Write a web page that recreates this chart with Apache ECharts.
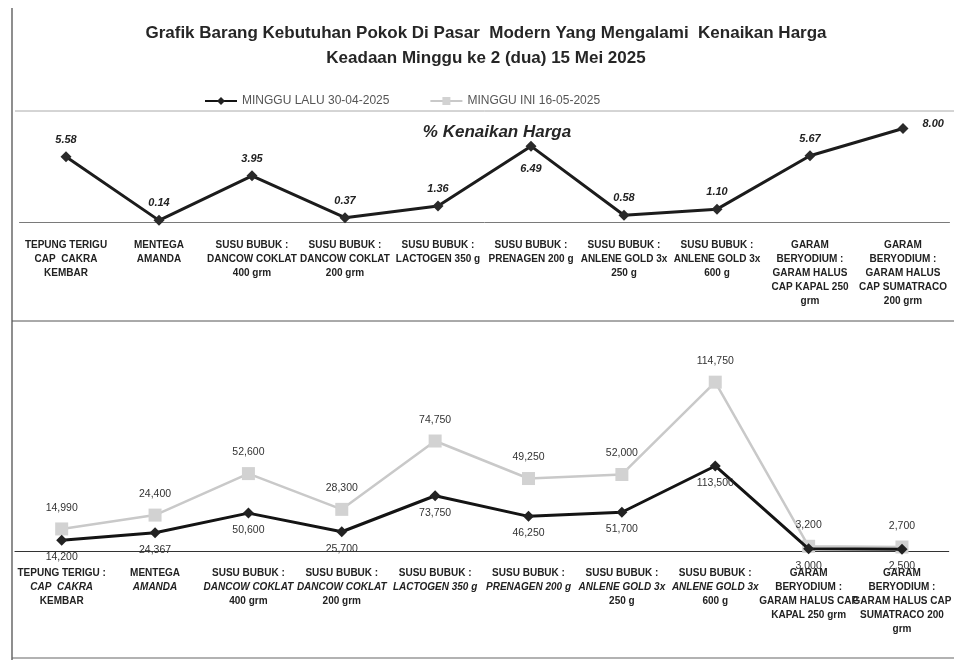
<!DOCTYPE html>
<html>
<head>
<meta charset="utf-8">
<script src="https://cdn.jsdelivr.net/npm/echarts@6/dist/echarts.min.js"></script>
<style>html,body{margin:0;padding:0;background:#fff;}#c{width:954px;height:662px;}</style>
</head>
<body>
<div id="c"></div>
<script>
// ---- data ----
const titleLines = ['Grafik Barang Kebutuhan Pokok Di Pasar  Modern Yang Mengalami  Kenaikan Harga', 'Keadaan Minggu ke 2 (dua) 15 Mei 2025'];
const subTitle = '% Kenaikan Harga';
const seriesNames = ['MINGGU LALU 30-04-2025', 'MINGGU INI 16-05-2025'];
const topCategories = [
  'TEPUNG TERIGU\nCAP  CAKRA\nKEMBAR',
  'MENTEGA\nAMANDA',
  'SUSU BUBUK :\nDANCOW COKLAT\n400 grm',
  'SUSU BUBUK :\nDANCOW COKLAT\n200 grm',
  'SUSU BUBUK :\nLACTOGEN 350 g',
  'SUSU BUBUK :\nPRENAGEN 200 g',
  'SUSU BUBUK :\nANLENE GOLD 3x\n250 g',
  'SUSU BUBUK :\nANLENE GOLD 3x\n600 g',
  'GARAM\nBERYODIUM :\nGARAM HALUS\nCAP KAPAL 250\ngrm',
  'GARAM\nBERYODIUM :\nGARAM HALUS\nCAP SUMATRACO\n200 grm'
];
const bottomCategories = [
  'TEPUNG TERIGU :\nCAP  CAKRA\nKEMBAR',
  'MENTEGA\nAMANDA',
  'SUSU BUBUK :\nDANCOW COKLAT\n400 grm',
  'SUSU BUBUK :\nDANCOW COKLAT\n200 grm',
  'SUSU BUBUK :\nLACTOGEN 350 g',
  'SUSU BUBUK :\nPRENAGEN 200 g',
  'SUSU BUBUK :\nANLENE GOLD 3x\n250 g',
  'SUSU BUBUK :\nANLENE GOLD 3x\n600 g',
  'GARAM\nBERYODIUM :\nGARAM HALUS CAP\nKAPAL 250 grm',
  'GARAM\nBERYODIUM :\nGARAM HALUS CAP\nSUMATRACO 200\ngrm'
];
const pctIncrease = [5.58, 0.14, 3.95, 0.37, 1.36, 6.49, 0.58, 1.10, 5.67, 8.00];
const priceLastWeek = [14200, 24367, 50600, 25700, 73750, 46250, 51700, 113500, 3000, 2500];
const priceThisWeek = [14990, 24400, 52600, 28300, 74750, 49250, 52000, 114750, 3200, 2700];

// ---- chart ----
const chart = echarts.init(document.getElementById('c'), null, {renderer: 'canvas'});
const FONT = "'Liberation Sans', Arial, sans-serif";
const fmtNum = v => Number(v).toLocaleString('en-US');

function labelFormatter(italicSecond) {
  return function (val, idx) {
    const lines = val.split('\n');
    return lines.map((l, i) => (italicSecond && i === 1 && idx < 8) ? '{i|' + l + '}' : '{b|' + l + '}').join('\n');
  };
}
const richLab = {
  b: {fontFamily: FONT, fontWeight: 'bold', fontSize: 10, lineHeight: 14, color: '#222'},
  i: {fontFamily: FONT, fontWeight: 'bold', fontStyle: 'italic', fontSize: 10, lineHeight: 14, color: '#222'}
};

const option = {
  backgroundColor: '#ffffff',
  animation: false,
  title: {
    text: titleLines.join('\n'),
    left: 481, top: 16, textAlign: 'center',
    textStyle: {fontFamily: FONT, fontWeight: 'bold', fontSize: 17, lineHeight: 25, color: '#262626'}
  },
  legend: {
    data: [seriesNames[0], seriesNames[1]],
    left: 199, top: 90,
    itemWidth: 32, itemHeight: 10,
    itemGap: 40,
    textStyle: {fontFamily: FONT, fontSize: 12, color: '#555'}
  },
  grid: [
    {left: 19.5, top: 111, width: 930, height: 111},
    {left: 15, top: 345, width: 942, height: 206}
  ],
  xAxis: [
    {
      type: 'category', gridIndex: 0, data: topCategories, boundaryGap: true,
      axisLine: {lineStyle: {color: '#7a7a7a', width: 1}},
      axisTick: {show: false},
      axisLabel: {interval: 0, margin: 16, formatter: labelFormatter(false), rich: richLab}
    },
    {
      type: 'category', gridIndex: 1, data: bottomCategories, boundaryGap: true,
      axisLine: {lineStyle: {color: '#333', width: 1.2}},
      axisTick: {show: false},
      axisLabel: {interval: 0, margin: 15, formatter: labelFormatter(true), rich: richLab}
    }
  ],
  yAxis: [
    {type: 'value', gridIndex: 0, min: 0, max: 9.5, show: false},
    {type: 'value', gridIndex: 1, min: 0, max: 275000, show: false},
    {type: 'value', gridIndex: 1, min: 0, max: 140000, show: false}
  ],
  series: [
    {
      name: subTitle, type: 'line', xAxisIndex: 0, yAxisIndex: 0,
      data: pctIncrease.map((v, i) => ({
        value: v,
        label: i === 5 ? {position: 'bottom', distance: 12} : (i === 9 ? {position: 'right', distance: 14, offset: [0, -5]} : undefined)
      })),
      symbol: 'diamond', symbolSize: 11,
      lineStyle: {color: '#1c1c1c', width: 3},
      itemStyle: {color: '#2a2a2a'},
      label: {show: true, position: 'top', distance: 6, formatter: p => Number(p.value).toFixed(2),
        fontFamily: FONT, fontSize: 11, fontWeight: 'bold', fontStyle: 'italic', color: '#222'},
      z: 3
    },
    {
      name: seriesNames[1], type: 'line', xAxisIndex: 1, yAxisIndex: 2,
      data: priceThisWeek,
      symbol: 'rect', symbolSize: 13,
      lineStyle: {color: '#c9c9c9', width: 2.5},
      itemStyle: {color: '#d2d2d2'},
      label: {show: true, position: 'top', distance: 9, formatter: p => fmtNum(p.value),
        fontFamily: FONT, fontSize: 10.5, color: '#333'},
      z: 2
    },
    {
      name: seriesNames[0], type: 'line', xAxisIndex: 1, yAxisIndex: 1,
      data: priceLastWeek,
      symbol: 'diamond', symbolSize: 11,
      lineStyle: {color: '#141414', width: 3},
      itemStyle: {color: '#222'},
      label: {show: true, position: 'bottom', distance: 6, formatter: p => fmtNum(p.value),
        fontFamily: FONT, fontSize: 10.5, color: '#333'},
      z: 3
    }
  ],
  graphic: [
    {type: 'text', x: 497, y: 132, style: {text: subTitle, align: 'center', verticalAlign: 'middle', fontFamily: FONT, fontSize: 17, fontWeight: 'bold', fontStyle: 'italic', fill: '#262626'}},
    {type: 'line', shape: {x1: 12, y1: 8, x2: 12, y2: 660}, style: {stroke: '#444', lineWidth: 1.2}, silent: true},
    {type: 'line', shape: {x1: 15, y1: 111, x2: 954, y2: 111}, style: {stroke: '#aaa', lineWidth: 1}, silent: true},
    {type: 'line', shape: {x1: 12, y1: 321, x2: 954, y2: 321}, style: {stroke: '#555', lineWidth: 1}, silent: true},
    {type: 'line', shape: {x1: 12, y1: 658, x2: 954, y2: 658}, style: {stroke: '#666', lineWidth: 1.2}, silent: true}
  ]
};
chart.setOption(option);
</script>
</body>
</html>
